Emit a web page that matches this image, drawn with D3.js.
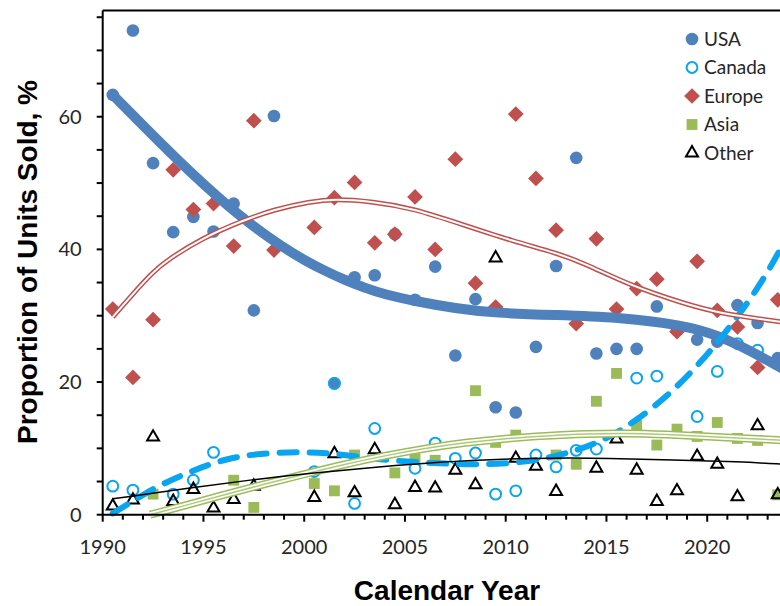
<!DOCTYPE html>
<html>
<head>
<meta charset="utf-8">
<script src="https://cdn.jsdelivr.net/npm/d3@7"></script>
<style>
  body { margin: 0; background: #fff; }
  svg { display: block; }
  .tick-label { font-family: Lato, 'Open Sans', sans-serif; font-size: 20px; fill: #262626; }
  .legend-label { font-family: Lato, 'Open Sans', sans-serif; font-size: 19px; fill: #262626; }
  .axis-title { font-family: 'Liberation Sans', Arial, sans-serif; font-size: 28px; font-weight: bold; fill: #000; }
</style>
</head>
<body>
<div id="chart"></div>
<script>
// calendar years (points sit at mid-year)
const years = [1990, 1991, 1992, 1993, 1994, 1995, 1996, 1997, 1998, 1999,
  2000, 2001, 2002, 2003, 2004, 2005, 2006, 2007, 2008, 2009,
  2010, 2011, 2012, 2013, 2014, 2015, 2016, 2017, 2018, 2019,
  2020, 2021, 2022, 2023];

const usa = [63.3, 73.0, 53.0, 42.6, 44.9, 42.7, 46.9, 30.8, 60.1, null,
  null, 19.8, 35.8, 36.1, 42.3, 32.4, 37.4, 24.0, 32.5, 16.2,
  15.4, 25.3, 37.5, 53.8, 24.3, 25.0, 25.0, 31.4, 27.8, 26.4,
  26.1, 31.6, 28.9, 23.6];

const canada = [4.3, 3.7, null, 3.1, 5.2, 9.4, null, null, null, null,
  6.5, 19.8, 1.7, 13.0, null, 7.0, 10.8, 8.5, 9.3, 3.1,
  3.6, 9.0, 7.2, 9.7, 9.9, null, 20.6, 20.9, null, 14.8,
  21.6, 25.8, 24.8, null];

const europe = [31.0, 20.7, 29.4, 52.0, 46.0, 46.9, 40.5, 59.4, 39.9, null,
  43.3, 47.8, 50.1, 41.0, 42.3, 47.9, 40.0, 53.6, 34.9, 31.3,
  60.4, 50.7, 42.9, 28.8, 41.6, 31.0, 34.1, 35.5, 27.6, 38.2,
  30.8, 28.3, 22.2, 32.4];

const asia = [null, null, 3.1, null, null, null, 5.2, 1.1, null, null,
  4.7, 3.6, 9.0, null, 6.3, 8.4, 8.2, null, 18.7, 10.9,
  12.0, null, 9.0, 7.6, 17.1, 21.3, 13.5, 10.5, 12.9, 11.8,
  13.9, 11.5, 11.2, 3.0];

const other = [1.3, 2.2, 11.7, 2.0, 3.8, 1.0, 2.3, 4.3, null, null,
  2.6, 9.2, 3.3, 9.8, 1.5, 4.1, 4.0, 6.7, 4.5, 38.7,
  8.5, 7.3, 3.5, null, 7.0, 11.4, 6.7, 2.0, 3.6, 8.8,
  7.6, 2.7, 13.4, 3.0];

// trend lines: [year, percent]
const usaTrend = [[1990.5, 63.3], [1992, 58.7], [1994.2, 52.0], [1997, 44.4], [1999, 40.2],
  [2000, 38.4], [2001, 36.8], [2002, 35.4], [2003, 34.2], [2004, 33.2], [2005.5, 32.2],
  [2007.5, 31.1], [2009.5, 30.4], [2012.5, 30.1], [2015.5, 29.8], [2018.8, 28.6],
  [2020.5, 27.1], [2022.1, 24.8], [2023.8, 21.9]];

const canadaTrend = [[1990.5, 0.2], [1991.2, 1.5], [1992, 3.0], [1993, 4.7], [1994.5, 6.7],
  [1996.15, 8.5], [1997.8, 9.25], [1999.8, 9.5], [2001.45, 9.25], [2003.9, 8.25],
  [2006.4, 7.75], [2008.9, 7.5], [2011.4, 8.0], [2013.35, 9.5], [2014.5, 10.8],
  [2015.5, 12.3], [2016.5, 14.3], [2017.9, 17.5], [2019.65, 22.8], [2021.3, 28.9],
  [2022.8, 35.4], [2023.8, 41.0]];

const europeTrend = [[1990.5, 29.8], [1991.5, 33.3], [1992.5, 36.6], [1993.2, 38.4], [1995, 41.8],
  [1997, 44.4], [1998.5, 46.0], [2000.3, 47.2], [2001.5, 47.6], [2003.4, 47.2],
  [2005.4, 46.2], [2007.9, 43.7], [2010.4, 41.2], [2012.5, 39.5], [2013.9, 37.9],
  [2016.3, 34.4], [2018.8, 31.9], [2020.5, 30.4], [2023.8, 29.0]];

const asiaTrend = [[1992.35, 0], [1994, 1.3], [1996, 3.0], [1998, 4.6], [2000, 6.1],
  [2002, 7.6], [2004, 8.9], [2006, 10.0], [2008, 10.9], [2010, 11.5], [2012, 11.9],
  [2014, 12.2], [2016, 12.3], [2018, 12.1], [2020, 11.8], [2022, 11.5], [2023.8, 11.2]];

const otherTrend = [[1990.5, 2.4], [1994.5, 4.1], [1997.5, 5.3], [2000, 6.2], [2004.75, 7.5],
  [2008.1, 8.25], [2012.7, 8.6], [2015, 8.5], [2018.3, 8.25], [2021.6, 8.0], [2023.8, 7.6]];

const seriesNames = ['USA', 'Canada', 'Europe', 'Asia', 'Other'];

const width = 780;
const height = 606;

const xScale = d3.scaleLinear().domain([1990, 2025]).range([102.7, 102.7 + 35 * 20.15]);
const yScale = d3.scaleLinear().domain([0, 76]).range([514.7, 10.6]);

const svg = d3.select('#chart').append('svg')
  .attr('width', width)
  .attr('height', height);

const styles = {
  USA: { symbol: d3.symbolCircle, size: 125, fill: '#4F81BD', stroke: 'none', sw: 0 },
  Canada: { symbol: d3.symbolCircle, size: 92, fill: 'none', stroke: '#0AA5F0', sw: 2 },
  Europe: { symbol: d3.symbolSquare, size: 124, fill: '#C0504D', stroke: 'none', sw: 0, rotate: 45 },
  Asia: { symbol: d3.symbolSquare, size: 118, fill: '#9BBB59', stroke: 'none', sw: 0 },
  Other: { symbol: d3.symbolTriangle, size: 62, fill: 'none', stroke: '#000', sw: 2 }
};

const seriesValues = { USA: usa, Canada: canada, Europe: europe, Asia: asia, Other: other };

function drawMarker(sel, name) {
  let s = styles[name];
  sel.attr('d', d3.symbol().type(s.symbol).size(s.size)())
    .attr('fill', s.fill)
    .attr('stroke', s.stroke)
    .attr('stroke-width', s.sw)
    .attr('stroke-linejoin', 'miter');
}

// markers
const markers = svg.append('g').attr('class', 'markers');
for (let name of seriesNames) {
  let pts = years.map((yr, i) => ({ x: yr + 0.5, y: seriesValues[name][i] })).filter(d => d.y !== null);
  markers.append('g')
    .selectAll('path')
    .data(pts)
    .enter()
    .append('path')
    .attr('transform', d => 'translate(' + xScale(d.x) + ',' + yScale(d.y) + ')' + (styles[name].rotate ? ' rotate(45)' : ''))
    .call(drawMarker, name);
}

// trend lines
const line = d3.line()
  .x(d => xScale(d[0]))
  .y(d => yScale(d[1]))
  .curve(d3.curveBasis);

const trends = svg.append('g').attr('class', 'trends');

trends.append('path')
  .datum(usaTrend)
  .attr('d', line)
  .attr('fill', 'none')
  .attr('stroke', '#4F81BD')
  .attr('stroke-width', 10)
  .attr('stroke-linecap', 'round')
  .attr('stroke-linejoin', 'round');

trends.append('path')
  .datum(canadaTrend)
  .attr('d', line)
  .attr('fill', 'none')
  .attr('stroke', '#0AA5F0')
  .attr('stroke-width', 6)
  .attr('stroke-dasharray', '17 13')
  .attr('stroke-linecap', 'round');

// double line: coloured outline with a white core
for (let [data, colour, outer, inner] of [[europeTrend, '#C0504D', 5, 2], [asiaTrend, '#9BBB59', 8, 5]]) {
  trends.append('path')
    .datum(data)
    .attr('d', line)
    .attr('fill', 'none')
    .attr('stroke', colour)
    .attr('stroke-width', outer);
  trends.append('path')
    .datum(data)
    .attr('d', line)
    .attr('fill', 'none')
    .attr('stroke', '#fff')
    .attr('stroke-width', inner);
  if (colour === '#9BBB59') {
    trends.append('path')
      .datum(data)
      .attr('d', line)
      .attr('fill', 'none')
      .attr('stroke', colour)
      .attr('stroke-width', 1.5)
      .attr('opacity', 0.8);
  }
}

trends.append('path')
  .datum(otherTrend)
  .attr('d', line)
  .attr('fill', 'none')
  .attr('stroke', '#000')
  .attr('stroke-width', 1.5);

// axes
const x0 = xScale(1990);
const y0 = yScale(0);
const yTop = yScale(76);

svg.append('line')
  .attr('x1', x0).attr('x2', width).attr('y1', yTop).attr('y2', yTop)
  .attr('stroke', '#000').attr('stroke-width', 2);

const xAxis = svg.append('g').attr('transform', 'translate(0,' + y0 + ')');
xAxis.append('line').attr('x1', x0).attr('x2', width).attr('stroke', '#000').attr('stroke-width', 2);
xAxis.selectAll('line.tick')
  .data(d3.range(1990, 2025))
  .enter()
  .append('line')
  .attr('class', 'tick')
  .attr('x1', d => xScale(d)).attr('x2', d => xScale(d))
  .attr('y1', 0).attr('y2', d => d % 5 === 0 ? 7 : 5)
  .attr('stroke', '#000').attr('stroke-width', 2);
xAxis.selectAll('text')
  .data(d3.range(1990, 2025, 5))
  .enter()
  .append('text')
  .attr('class', 'tick-label')
  .attr('x', d => xScale(d))
  .attr('y', 39)
  .attr('text-anchor', 'middle')
  .text(d => d);

const yAxis = svg.append('g').attr('transform', 'translate(' + x0 + ',0)');
yAxis.append('line').attr('y1', yTop).attr('y2', y0 + 1).attr('stroke', '#000').attr('stroke-width', 2);
yAxis.selectAll('line.tick')
  .data(d3.range(0, 80, 5))
  .enter()
  .append('line')
  .attr('class', 'tick')
  .attr('x1', -6).attr('x2', 0)
  .attr('y1', d => yScale(d)).attr('y2', d => yScale(d))
  .attr('stroke', '#000').attr('stroke-width', 2);
yAxis.selectAll('text')
  .data([0, 20, 40, 60])
  .enter()
  .append('text')
  .attr('class', 'tick-label')
  .attr('x', -21)
  .attr('y', d => yScale(d))
  .attr('dy', '0.35em')
  .attr('text-anchor', 'end')
  .text(d => d);

svg.append('text')
  .attr('class', 'axis-title')
  .attr('x', 447)
  .attr('y', 600)
  .attr('text-anchor', 'middle')
  .text('Calendar Year');

svg.append('text')
  .attr('class', 'axis-title')
  .attr('transform', 'translate(37,262) rotate(-90)')
  .attr('text-anchor', 'middle')
  .text('Proportion of Units Sold, %');

// legend
const legend = svg.append('g').attr('transform', 'translate(692,39)');
const rows = legend.selectAll('g')
  .data(seriesNames)
  .enter()
  .append('g')
  .attr('transform', (d, i) => 'translate(0,' + (i * 28.5) + ')');
rows.append('path')
  .each(function(d) {
    d3.select(this)
      .attr('transform', styles[d].rotate ? 'rotate(45)' : null)
      .call(drawMarker, d);
  });
rows.append('text')
  .attr('class', 'legend-label')
  .attr('x', 12)
  .attr('dy', '0.35em')
  .text(d => d);
</script>
</body>
</html>
